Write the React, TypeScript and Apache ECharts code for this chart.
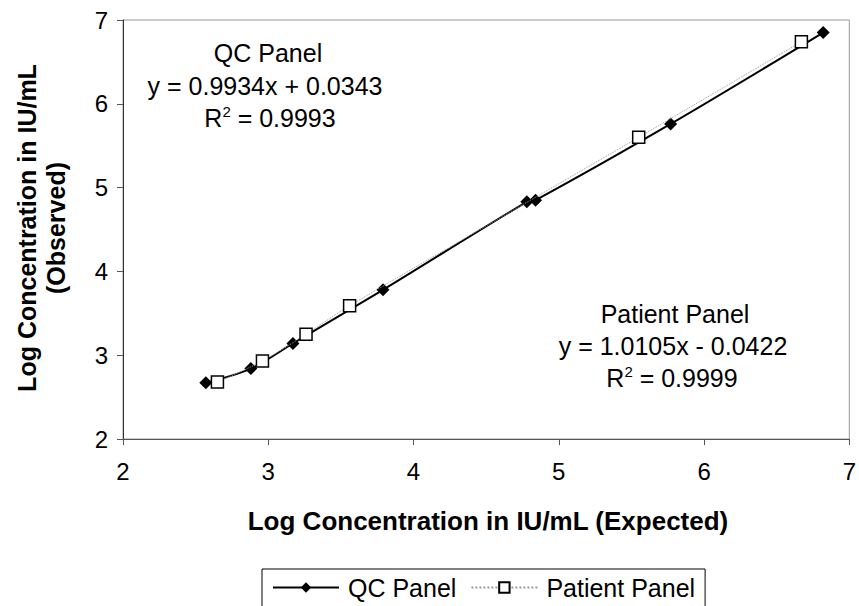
import React, { useEffect, useRef } from "react";
import * as echarts from "echarts";

const qcX = [2.57, 2.88, 3.17, 3.79, 4.78, 4.84, 5.77, 6.82];
const qcY = [2.67, 2.84, 3.14, 3.78, 4.83, 4.85, 5.76, 6.85];
const patX = [2.65, 2.96, 3.26, 3.56, 5.55, 6.67];
const patY = [2.68, 2.93, 3.25, 3.59, 5.6, 6.74];

const seriesNames = ["QC Panel", "Patient Panel"];
const qcLabels = ["QC Panel", "y = 0.9934x + 0.0343", "0.9993"];
const patLabels = ["Patient Panel", "y = 1.0105x - 0.0422", "0.9999"];
const xTitle = "Log Concentration in IU/mL (Expected)";
const yTitle = "Log Concentration in IU/mL\n(Observed)";

const FONT = "Liberation Sans, Arial, sans-serif";

export default function App() {
  const ref = useRef<HTMLDivElement>(null);
  useEffect(() => {
    if (!ref.current) return;
    const chart = echarts.init(ref.current, undefined, { renderer: "svg" });
    const txt = (x: number, y: number, s: string, extra: any = {}) => ({
      type: "text",
      x,
      y,
      style: {
        text: s,
        font: `25px ${FONT}`,
        fill: "#000",
        textAlign: "center",
        textVerticalAlign: "middle",
        ...extra,
      },
    });
    const r2 = (x: number, y: number, v: string) => ({
      type: "text",
      x,
      y,
      style: {
        text: `{a|R}{s|2}{a| = ${v}}`,
        textAlign: "center",
        textVerticalAlign: "middle",
        fill: "#000",
        rich: {
          a: { fontSize: 25, fontFamily: FONT, fill: "#000" },
          s: { fontSize: 15, fontFamily: FONT, fill: "#000", padding: [0, 0, 14, 0] },
        },
      },
    });
    chart.setOption({
      animation: false,
      backgroundColor: "#fff",
      grid: {
        left: 123,
        right: 7,
        top: 20,
        bottom: 167,
        show: true,
        borderColor: "#999",
        borderWidth: 1,
      },
      xAxis: {
        type: "value",
        min: 2,
        max: 7,
        interval: 1,
        axisLine: { show: true, onZero: false, lineStyle: { color: "#555", width: 1 } },
        axisTick: { show: true, length: 6, lineStyle: { color: "#555" } },
        axisLabel: { fontSize: 24, fontFamily: FONT, color: "#000", margin: 20 },
        splitLine: { show: false },
      },
      yAxis: {
        type: "value",
        min: 2,
        max: 7,
        interval: 1,
        axisLine: { show: true, onZero: false, lineStyle: { color: "#333", width: 1 } },
        axisTick: { show: true, length: 6, lineStyle: { color: "#555" } },
        axisLabel: { fontSize: 24, fontFamily: FONT, color: "#000", margin: 15 },
        splitLine: { show: false },
      },
      legend: {
        left: 262,
        top: 569,
        data: seriesNames,
        itemWidth: 66,
        itemHeight: 13,
        itemGap: 14,
        borderColor: "#000",
        borderWidth: 1,
        padding: [6, 10, 20, 10],
        textStyle: { fontSize: 25, fontFamily: FONT, color: "#000", padding: [0, 0, 0, 4] },
      },
      graphic: [
        txt(268, 53, qcLabels[0]),
        txt(265, 86, qcLabels[1]),
        r2(270, 118, qcLabels[2]),
        txt(675, 314, patLabels[0]),
        txt(673, 346, patLabels[1]),
        r2(672, 378, patLabels[2]),
        {
          type: "text",
          x: 488,
          y: 521,
          style: {
            text: xTitle,
            font: `bold 26px ${FONT}`,
            fill: "#000",
            textAlign: "center",
            textVerticalAlign: "middle",
          },
        },
        {
          type: "text",
          x: 41,
          y: 228,
          rotation: Math.PI / 2,
          style: {
            text: yTitle,
            font: `bold 25px ${FONT}`,
            fill: "#000",
            textAlign: "center",
            textVerticalAlign: "middle",
            lineHeight: 29,
          },
        },
      ],
      series: [
        {
          name: seriesNames[0],
          type: "line",
          smooth: 0.3,
          data: qcX.map((x, i) => [x, qcY[i]]),
          symbol: "diamond",
          symbolSize: [13, 13],
          lineStyle: { color: "#000", width: 2 },
          itemStyle: { color: "#000", borderColor: "#000", borderWidth: 0 },
          z: 3,
        },
        {
          name: seriesNames[1],
          type: "line",
          smooth: 0.3,
          data: patX.map((x, i) => [x, patY[i]]),
          symbol: "rect",
          symbolSize: [12, 12],
          lineStyle: { color: "#999", width: 1, type: "dotted" },
          itemStyle: { color: "#fff", borderColor: "#000", borderWidth: 1.5 },
          z: 4,
        },
      ],
    });
    return () => chart.dispose();
  }, []);
  return (
    <div
      ref={ref}
      style={{ position: "fixed", left: 0, top: 0, width: 859, height: 606 }}
    />
  );
}
